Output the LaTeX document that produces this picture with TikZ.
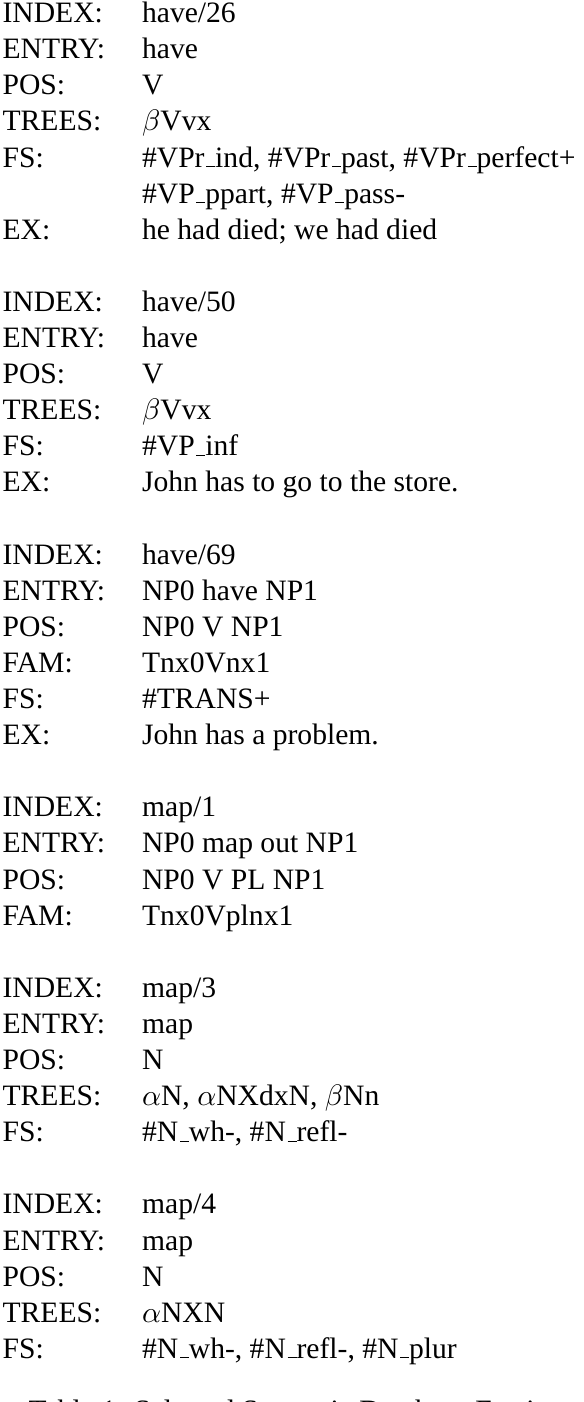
\documentclass[tikz,border=0pt]{standalone}
\usepackage{fontspec}
\setmainfont{Liberation Serif}

% short low rule, as the old OT1 underscore
\newcommand{\usc}{\leavevmode\kern.06em\vbox{\hrule width.3em}}

\tikzstyle{fname}=[anchor=base west, inner sep=0pt, font=\fontsize{10}{12}\selectfont]
\tikzstyle{fvalue}=[anchor=base west, inner sep=0pt, font=\fontsize{10}{12}\selectfont]
\tikzstyle{capt}=[anchor=base west, inner sep=0pt, font=\fontsize{10}{12}\selectfont, text=black]

\begin{document}
\begin{tikzpicture}[x=0.3378pt, y=-12.195pt]
        \useasboundingbox (0,-0.629) rectangle (584,38.21);
        \clip (0,-0.629) rectangle (584,38.21);
        % have/26
        \draw (2,0)   node[fname](k0){INDEX:}   (141.5,0)   node[fvalue](v0){have/26};
        \draw (2,1)   node[fname](k1){ENTRY:}   (141.5,1)   node[fvalue](v1){have};
        \draw (2,2)   node[fname](k2){POS:}     (141.5,2)   node[fvalue](v2){V};
        \draw (2,3)   node[fname](k3){TREES:}   (141.5,3)   node[fvalue](v3){$\beta$Vvx};
        \draw (2,4)   node[fname](k4){FS:}      (141.5,4)   node[fvalue](v4){\#VPr\usc ind, \#VPr\usc past, \#VPr\usc perfect+};
        \draw                                   (141.5,5)   node[fvalue](v5){\#VP\usc ppart, \#VP\usc pass-};
        \draw (2,6)   node[fname](k6){EX:}      (141.5,6)   node[fvalue](v6){he had died; we had died};
        % have/50
        \draw (2,8)   node[fname](k8){INDEX:}   (141.5,8)   node[fvalue](v8){have/50};
        \draw (2,9)   node[fname](k9){ENTRY:}   (141.5,9)   node[fvalue](v9){have};
        \draw (2,10)  node[fname](k10){POS:}    (141.5,10)  node[fvalue](v10){V};
        \draw (2,11)  node[fname](k11){TREES:}  (141.5,11)  node[fvalue](v11){$\beta$Vvx};
        \draw (2,12)  node[fname](k12){FS:}     (141.5,12)  node[fvalue](v12){\#VP\usc inf};
        \draw (2,13)  node[fname](k13){EX:}     (141.5,13)  node[fvalue](v13){John has to go to the store.};
        % have/69
        \draw (2,15)  node[fname](k15){INDEX:}  (141.5,15)  node[fvalue](v15){have/69};
        \draw (2,16)  node[fname](k16){ENTRY:}  (141.5,16)  node[fvalue](v16){NP0 have NP1};
        \draw (2,17)  node[fname](k17){POS:}    (141.5,17)  node[fvalue](v17){NP0 V NP1};
        \draw (2,18)  node[fname](k18){FAM:}    (141.5,18)  node[fvalue](v18){Tnx0Vnx1};
        \draw (2,19)  node[fname](k19){FS:}     (141.5,19)  node[fvalue](v19){\#TRANS+};
        \draw (2,20)  node[fname](k20){EX:}     (141.5,20)  node[fvalue](v20){John has a problem.};
        % map/1
        \draw (2,22)  node[fname](k22){INDEX:}  (141.5,22)  node[fvalue](v22){map/1};
        \draw (2,23)  node[fname](k23){ENTRY:}  (141.5,23)  node[fvalue](v23){NP0 map out NP1};
        \draw (2,24)  node[fname](k24){POS:}    (141.5,24)  node[fvalue](v24){NP0 V PL NP1};
        \draw (2,25)  node[fname](k25){FAM:}    (141.5,25)  node[fvalue](v25){Tnx0Vplnx1};
        % map/3
        \draw (2,27)  node[fname](k27){INDEX:}  (141.5,27)  node[fvalue](v27){map/3};
        \draw (2,28)  node[fname](k28){ENTRY:}  (141.5,28)  node[fvalue](v28){map};
        \draw (2,29)  node[fname](k29){POS:}    (141.5,29)  node[fvalue](v29){N};
        \draw (2,30)  node[fname](k30){TREES:}  (141.5,30)  node[fvalue](v30){$\alpha$N, $\alpha$NXdxN, $\beta$Nn};
        \draw (2,31)  node[fname](k31){FS:}     (141.5,31)  node[fvalue](v31){\#N\usc wh-, \#N\usc refl-};
        % map/4
        \draw (2,33)  node[fname](k33){INDEX:}  (141.5,33)  node[fvalue](v33){map/4};
        \draw (2,34)  node[fname](k34){ENTRY:}  (141.5,34)  node[fvalue](v34){map};
        \draw (2,35)  node[fname](k35){POS:}    (141.5,35)  node[fvalue](v35){N};
        \draw (2,36)  node[fname](k36){TREES:}  (141.5,36)  node[fvalue](v36){$\alpha$NXN};
        \draw (2,37)  node[fname](k37){FS:}     (141.5,37)  node[fvalue](v37){\#N\usc wh-, \#N\usc refl-, \#N\usc plur};
        %
        \draw (28,38.71) node[capt](cap){Table 1: Selected Syntactic Database Entries};
      \end{tikzpicture}
\end{document}
